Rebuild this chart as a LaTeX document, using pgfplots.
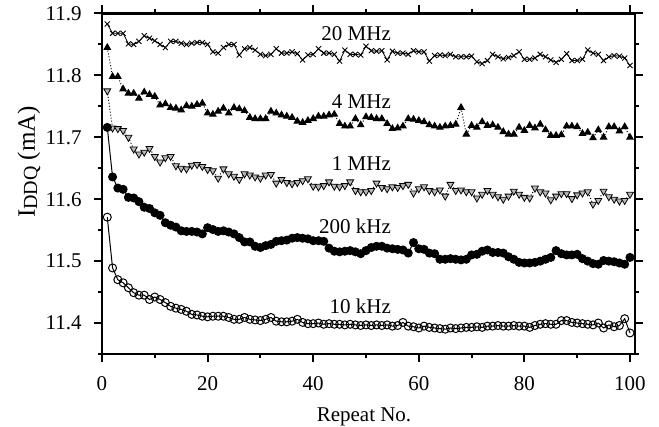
\documentclass[border=0pt]{standalone}
\usepackage{pgfplots}
\usepackage{pgfplotstable}
\pgfplotsset{compat=1.18}
\usepackage{fontspec}
\setmainfont{Liberation Serif}
\pgfplotstableread{
x f20 f4 f1 k200 k10
1 11.883 11.845 11.775 11.716 11.571
2 11.868 11.798 11.715 11.636 11.489
3 11.868 11.798 11.714 11.618 11.470
4 11.868 11.778 11.711 11.616 11.465
5 11.851 11.771 11.700 11.603 11.457
6 11.850 11.771 11.681 11.602 11.449
7 11.855 11.763 11.673 11.596 11.445
8 11.864 11.773 11.676 11.587 11.445
9 11.860 11.769 11.682 11.585 11.438
10 11.856 11.766 11.669 11.578 11.442
11 11.850 11.752 11.660 11.574 11.438
12 11.845 11.754 11.667 11.562 11.433
13 11.855 11.748 11.669 11.558 11.427
14 11.855 11.747 11.654 11.555 11.424
15 11.852 11.744 11.650 11.549 11.422
16 11.850 11.751 11.649 11.548 11.419
17 11.852 11.750 11.655 11.548 11.414
18 11.853 11.753 11.656 11.547 11.413
19 11.853 11.755 11.653 11.544 11.411
20 11.850 11.739 11.648 11.554 11.410
21 11.838 11.737 11.646 11.551 11.411
22 11.836 11.742 11.634 11.548 11.411
23 11.845 11.747 11.649 11.549 11.411
24 11.850 11.739 11.641 11.547 11.409
25 11.850 11.748 11.637 11.544 11.406
26 11.833 11.746 11.632 11.538 11.406
27 11.843 11.743 11.641 11.531 11.409
28 11.845 11.732 11.639 11.531 11.406
29 11.841 11.730 11.636 11.524 11.405
30 11.834 11.730 11.634 11.522 11.404
31 11.832 11.730 11.639 11.525 11.406
32 11.834 11.742 11.640 11.527 11.409
33 11.843 11.739 11.626 11.532 11.403
34 11.836 11.736 11.632 11.533 11.402
35 11.836 11.734 11.627 11.534 11.402
36 11.838 11.732 11.625 11.537 11.403
37 11.835 11.726 11.627 11.538 11.406
38 11.825 11.724 11.630 11.537 11.401
39 11.833 11.727 11.633 11.536 11.399
40 11.834 11.730 11.621 11.533 11.399
41 11.843 11.734 11.620 11.533 11.400
42 11.836 11.734 11.622 11.532 11.398
43 11.836 11.736 11.628 11.521 11.399
44 11.834 11.737 11.621 11.516 11.398
45 11.823 11.722 11.620 11.515 11.398
46 11.841 11.718 11.622 11.516 11.397
47 11.834 11.718 11.628 11.517 11.398
48 11.834 11.730 11.614 11.515 11.397
49 11.833 11.720 11.612 11.512 11.396
50 11.847 11.733 11.612 11.517 11.397
51 11.840 11.732 11.614 11.522 11.396
52 11.839 11.730 11.626 11.524 11.397
53 11.840 11.730 11.619 11.524 11.396
54 11.825 11.722 11.617 11.521 11.397
55 11.839 11.714 11.620 11.520 11.395
56 11.836 11.715 11.619 11.519 11.396
57 11.836 11.718 11.622 11.518 11.401
58 11.834 11.730 11.624 11.513 11.395
59 11.840 11.729 11.610 11.530 11.394
60 11.838 11.727 11.617 11.520 11.392
61 11.838 11.725 11.620 11.519 11.395
62 11.823 11.720 11.614 11.513 11.393
63 11.832 11.718 11.612 11.512 11.392
64 11.833 11.716 11.615 11.503 11.391
65 11.832 11.718 11.605 11.503 11.390
66 11.834 11.719 11.624 11.504 11.392
67 11.830 11.721 11.614 11.503 11.391
68 11.830 11.748 11.615 11.502 11.392
69 11.830 11.705 11.612 11.503 11.393
70 11.831 11.719 11.612 11.510 11.393
71 11.822 11.716 11.602 11.511 11.394
72 11.819 11.725 11.608 11.516 11.393
73 11.824 11.719 11.614 11.518 11.395
74 11.834 11.720 11.608 11.514 11.395
75 11.830 11.716 11.604 11.514 11.396
76 11.827 11.709 11.600 11.513 11.395
77 11.829 11.705 11.605 11.507 11.395
78 11.832 11.705 11.613 11.503 11.396
79 11.838 11.716 11.608 11.498 11.395
80 11.826 11.711 11.603 11.497 11.395
81 11.826 11.719 11.602 11.497 11.393
82 11.828 11.715 11.618 11.498 11.396
83 11.834 11.721 11.612 11.500 11.398
84 11.830 11.712 11.610 11.503 11.399
85 11.825 11.703 11.599 11.506 11.398
86 11.821 11.703 11.605 11.517 11.398
87 11.826 11.704 11.609 11.512 11.404
88 11.835 11.718 11.609 11.510 11.404
89 11.824 11.718 11.601 11.510 11.401
90 11.824 11.717 11.607 11.511 11.400
91 11.826 11.706 11.610 11.504 11.399
92 11.841 11.708 11.612 11.500 11.398
93 11.836 11.699 11.592 11.496 11.397
94 11.834 11.712 11.598 11.495 11.400
95 11.824 11.700 11.613 11.501 11.392
96 11.830 11.717 11.604 11.500 11.397
97 11.832 11.717 11.600 11.499 11.394
98 11.831 11.710 11.597 11.497 11.396
99 11.828 11.717 11.598 11.495 11.407
100 11.816 11.700 11.608 11.506 11.384
}\datatable
\begin{document}
\begin{tikzpicture}
\useasboundingbox (-51pt,-36.5pt) rectangle (278.5pt,177pt);
\begin{axis}[
  at={(0pt,0pt)}, anchor=south west,
  scale only axis, width=266.5pt, height=170.25pt,
  xmin=0, xmax=100.95, ymin=11.35, ymax=11.9,
  xtick={0,20,40,60,80,100}, minor xtick={10,30,50,70,90},
  ytick={11.4,11.5,11.6,11.7,11.8,11.9},
  minor ytick={11.35,11.45,11.55,11.65,11.75,11.85},
  xtick pos=both, ytick pos=both,
  tick align=outside, major tick length=4pt, minor tick length=2pt,
  tick style={line width=1pt, black},
  axis line style={line width=1.3pt},
  /pgf/number format/assume math mode=true,
  tick label style={font=\fontsize{10.5}{12}\selectfont},
  xticklabel style={anchor=base, inner sep=0pt, yshift=-14.5pt},
  yticklabel style={anchor=east, inner sep=0pt, xshift=-6pt,
    /pgf/number format/fixed, /pgf/number format/precision=1, /pgf/number format/fixed zerofill},
  xlabel={Repeat No.},
  xlabel style={at={(axis description cs:0.4916,0)}, anchor=base, yshift=-34pt, font=\fontsize{10.5}{12}\selectfont},
  ylabel={I\raisebox{-1.2pt}{\fontsize{10}{11}\selectfont DDQ} (mA)},
  ylabel style={at={(axis description cs:-0.137,0.564)}, anchor=center, font=\fontsize{12.5}{14}\selectfont},
]
\addplot[black, line width=0.4pt, mark=x, mark size=1.8pt, mark options={solid, line width=0.45pt}] table[x=x, y=f20] {\datatable};
\addplot[black, line width=0.5pt, densely dotted, mark=triangle*, mark size=1.8pt, mark options={solid}] table[x=x, y=f4] {\datatable};
\addplot[black, line width=0.5pt, densely dotted, mark=triangle*, mark size=2pt, mark options={solid, rotate=180, fill=gray!55, draw=black, line width=0.4pt}] table[x=x, y=f1] {\datatable};
\addplot[black, line width=0.5pt, mark=*, mark size=2pt, mark options={solid}] table[x=x, y=k200] {\datatable};
\addplot[black, line width=0.5pt, mark=o, mark size=2pt, mark options={solid, line width=0.5pt}] table[x=x, y=k10] {\datatable};
\node[anchor=east, inner sep=0pt, font=\fontsize{10.5}{12}\selectfont] at (axis cs:54.79,11.868) {20 MHz};
\node[anchor=east, inner sep=0pt, font=\fontsize{10.5}{12}\selectfont] at (axis cs:54.79,11.7575) {4 MHz};
\node[anchor=east, inner sep=0pt, font=\fontsize{10.5}{12}\selectfont] at (axis cs:54.79,11.658) {1 MHz};
\node[anchor=east, inner sep=0pt, font=\fontsize{10.5}{12}\selectfont] at (axis cs:54.79,11.5556) {200 kHz};
\node[anchor=east, inner sep=0pt, font=\fontsize{10.5}{12}\selectfont] at (axis cs:54.79,11.4264) {10 kHz};
\draw[line width=1.3pt, line join=miter] (rel axis cs:0,0) rectangle (rel axis cs:1,1);
\end{axis}
\end{tikzpicture}
\end{document}
